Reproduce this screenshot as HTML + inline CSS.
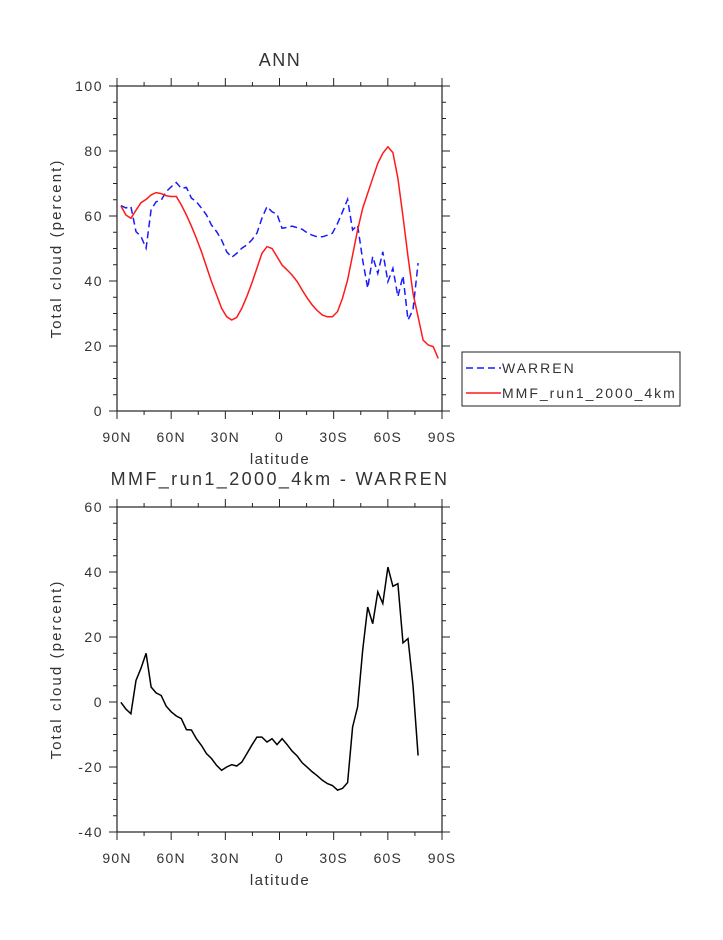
<!DOCTYPE html>
<html><head><meta charset="utf-8"><style>
body{margin:0;background:#fff;}
svg text{font-family:"Liberation Sans",sans-serif;fill:#333;}
</style></head><body>
<svg id="chart" width="723" height="935" viewBox="0 0 723 935" xmlns="http://www.w3.org/2000/svg">
<g id="top"></g>
<g id="bot"></g>
</svg>
<script>
const xTickLabels = ["90N","60N","30N","0","30S","60S","90S"];
const topYTicks = [0,20,40,60,80,100];
const botYTicks = [-40,-20,0,20,40,60];
const mmf = [63.1,60.3,59.3,61.8,64.1,65.1,66.5,67.2,66.9,66.2,66.0,66.0,63.4,60.3,56.9,53.1,49.0,44.4,39.8,35.7,31.6,29.0,28.0,28.8,31.6,35.2,39.3,43.9,48.5,50.6,50.0,47.5,44.9,43.4,41.8,39.8,37.2,34.7,32.6,30.9,29.5,29.0,29.0,30.6,34.7,40.3,48.0,55.7,62.4,67.0,71.6,76.2,79.3,81.3,79.5,71.6,59.8,47.5,36.2,29.0,21.8,20.3,19.8,16.2];
const warren = [63.2,62.5,62.9,55.2,53.7,50.1,61.9,64.4,64.9,67.5,69.0,70.3,68.5,68.8,65.5,64.4,62.4,60.3,57.2,55.2,52.6,49.0,47.3,48.5,50.1,51.1,52.6,54.7,59.3,62.9,61.3,60.6,56.2,56.5,56.9,56.4,55.9,54.8,54.1,53.6,53.6,54.1,54.7,57.7,61.3,65.1,55.7,57.2,46.4,37.8,47.5,42.3,49.0,39.8,43.9,35.2,41.6,28.0,31.1,45.5];
const lats = mmf.map((_, i) => 87.86 - 2.79 * i);

const NS = "http://www.w3.org/2000/svg";
function mk(parent, tag, attrs, text){
  const e = document.createElementNS(NS, tag);
  for (const k in attrs) e.setAttribute(k, attrs[k]);
  if (text !== undefined) e.textContent = text;
  parent.appendChild(e); return e;
}
const X0 = 117, X1 = 442;
const xScale = lat => X0 + (90 - lat) / 180 * (X1 - X0);

function panel(g, top, bottom, ymin, ymax, yticks, minorStep, ytitle){
  const yScale = v => bottom - (v - ymin) / (ymax - ymin) * (bottom - top);
  const fr = mk(g, "rect", {x:X0, y:top, width:X1-X0, height:bottom-top, fill:"none", stroke:"#222", "stroke-width":1.2});
  
  
  for (let v = ymin; v <= ymax + 1e-9; v += minorStep){
    const y = yScale(v), major = yticks.includes(Math.round(v));
    const L = major ? 8 : 4;
    const t1 = mk(g, "line", {x1:X0-L, x2:X0, y1:y, y2:y, stroke:"#222", "stroke-width":1});
    
    
    const t2 = mk(g, "line", {x1:X1, x2:X1+L, y1:y, y2:y, stroke:"#222", "stroke-width":1});
    
    
  }
  yticks.forEach(v => {
    const t = mk(g, "text", {x:X0-14, y:yScale(v)+5, "text-anchor":"end", "font-size":14, "letter-spacing":1.5}, String(v));
    
    
  });
  for (let d = 0; d <= 180; d += 15){
    const x = X0 + d / 180 * (X1 - X0), major = d % 30 === 0, L = major ? 8 : 4;
    const a = mk(g, "line", {x1:x, x2:x, y1:bottom, y2:bottom+L, stroke:"#222", "stroke-width":1});
    
    
    const b = mk(g, "line", {x1:x, x2:x, y1:top-L, y2:top, stroke:"#222", "stroke-width":1});
    
    
  }
  xTickLabels.forEach((s, i) => {
    const t = mk(g, "text", {x:X0 + i * (X1 - X0) / 6, y:bottom+31, "text-anchor":"middle", "font-size":14, "letter-spacing":1.2}, s);
    
    
  });
  const xl = mk(g, "text", {x:280, y:bottom+53, "text-anchor":"middle", "font-size":15, "letter-spacing":1.5}, "latitude");
  
  
  const yl = mk(g, "text", {x:0, y:0, "text-anchor":"middle", "font-size":15, "letter-spacing":2.1, transform:`translate(61,${(top+bottom)/2}) rotate(-90)`}, ytitle);
  
  
  return yScale;
}
function line(g, vals, yS, color, dash, name){
  const d = vals.map((v, i) => (i ? "L" : "M") + xScale(lats[i]).toFixed(1) + "," + yS(v).toFixed(1)).join("");
  const p = mk(g, "path", {d, fill:"none", stroke:color, "stroke-width":1.5});
  if (dash) p.setAttribute("stroke-dasharray", dash);
  
  
}

const gt = document.getElementById("top");
const ysT = panel(gt, 86, 411, 0, 100, topYTicks, 5, "Total cloud (percent)");
const tt = mk(gt, "text", {x:280, y:66, "text-anchor":"middle", "font-size":18, "letter-spacing":1.5}, "ANN");


line(gt, warren, ysT, "#1a1aff", "7,4", "warren-line");
line(gt, mmf, ysT, "#ff1a1a", null, "mmf-line");
const lg = mk(gt, "g", {});


mk(lg, "rect", {x:462, y:352, width:218, height:54, fill:"#fff", stroke:"#222", "stroke-width":1});
const l1 = mk(lg, "line", {x1:466, x2:501, y1:368, y2:368, stroke:"#1a1aff", "stroke-width":1.5, "stroke-dasharray":"7,4"});


const lt1 = mk(lg, "text", {x:502, y:373, "font-size":14, "letter-spacing":2}, "WARREN");


const l2 = mk(lg, "line", {x1:466, x2:501, y1:393, y2:393, stroke:"#ff1a1a", "stroke-width":1.5});


const lt2 = mk(lg, "text", {x:502, y:398, "font-size":14, "letter-spacing":2}, "MMF_run1_2000_4km");



const gb = document.getElementById("bot");
const ysB = panel(gb, 507, 832, -40, 60, botYTicks, 5, "Total cloud (percent)");
const bt = mk(gb, "text", {x:280, y:485, "text-anchor":"middle", "font-size":18, "letter-spacing":2.4}, "MMF_run1_2000_4km - WARREN");


const diff = warren.map((w, i) => mmf[i] - w);
line(gb, diff, ysB, "#000", null, "difference-line");
</script>
</body></html>
